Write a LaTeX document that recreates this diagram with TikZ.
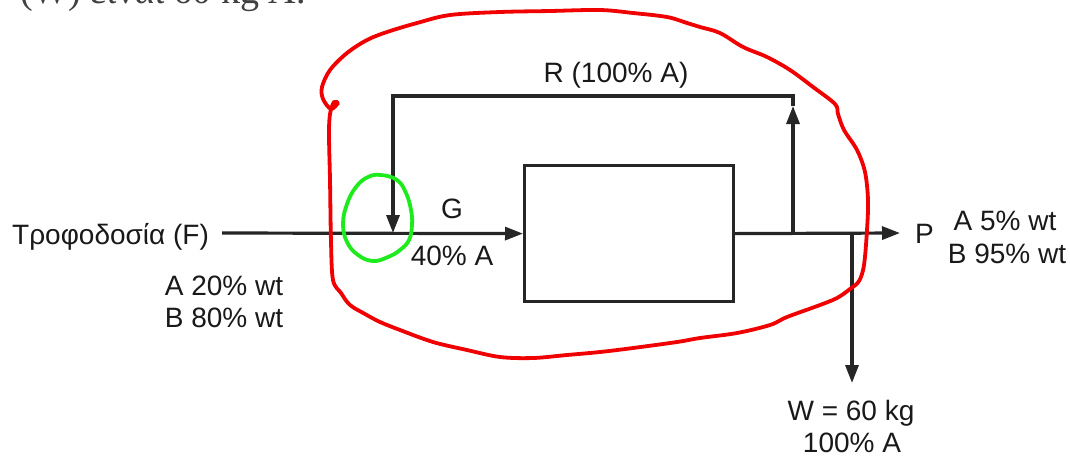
\documentclass[tikz,border=0pt]{standalone}
\usepackage{fontspec}
\setmainfont{Liberation Sans}
\newfontfamily\serifgr{Liberation Serif}
\usetikzlibrary{arrows.meta}
\definecolor{hred}{RGB}{240,0,0}
\definecolor{hgreen}{RGB}{30,235,30}
\begin{document}
\begin{tikzpicture}[x=1pt,y=-1pt,
  lbl/.style={font=\fontsize{28}{32}\selectfont, inner sep=0pt, text=black!90},
  pipe/.style={line width=3.2pt, draw=black!85},
  flow/.style={pipe, -{Triangle[length=18pt,width=13pt]}},
  hand/.style={line width=3.8pt, line cap=round, line join=round}]
\useasboundingbox (0,0) rectangle (1070,459);
\fill[white] (0,0) rectangle (1070,459);
\begin{scope}
  \clip (0,0) rectangle (1070,459);
  \node[font=\serifgr\fontsize{38}{40}\selectfont, inner sep=0pt, anchor=base west, text=black!75] (toptext) at (20,3) {(W) είναι 60 kg A.};
\end{scope}

% labels
\node[lbl, anchor=base west] (F) at (12,244) {Τροφοδοσία (F)};
\node[lbl, anchor=base] (fa) at (224,295) {A 20\% wt};
\node[lbl, anchor=base] (fb) at (224,327) {B 80\% wt};
\node[lbl, anchor=base] (G) at (452,218) {G};
\node[lbl, anchor=base] (g40) at (452,265) {40\% A};
\node[lbl, anchor=base] (R) at (616,82) {R (100\% A)};
\node[lbl, anchor=base west] (P) at (915,243) {P};
\node[lbl, anchor=base] (pa) at (1005,230) {A 5\% wt};
\node[lbl, anchor=base] (pb) at (1007,263) {B 95\% wt};
\node[lbl, anchor=base] (W) at (851,420) {W = 60 kg};
\node[lbl, anchor=base] (wa) at (852,452) {100\% A};

% unit
\node[draw, pipe, minimum width=209pt, minimum height=136pt, inner sep=0pt, anchor=north west] (unit) at (523,164) {};

% coordinates
\coordinate (fstart) at (222,233);
\coordinate (mix) at (393,233);
\coordinate (split) at (793,233);
\coordinate (rarr) at (793,106);
\coordinate (rtop) at (793,96);
\coordinate (ltop) at (393,96);
\coordinate (wsplit) at (852,233);
\coordinate (wtip) at (852,383);
\coordinate (ptip) at (900,233);

% streams
\draw[flow] (fstart) -- (unit.west);
\draw[flow] (unit.east) -- (ptip);
\draw[flow] (split) -- (rarr);
\draw[flow] (rarr) -- (rtop) -- (ltop) -- (mix);
\draw[flow] (wsplit) -- (wtip);

% hand annotations
\draw[hand, hred] plot[smooth, tension=0.55] coordinates {
 (338,103) (331,109) (323,99) (322,87) (330,70) (347,53) (367,40) (387,32)
 (417,23) (450,15) (500,12) (550,11) (600,10) (633,13) (667,17) (687,23)
 (700,27) (720,33) (743,47) (767,57) (790,70) (813,87) (835,104) (838,114)
 (844,130) (857,150) (865,172) (868,200) (867,230) (864,265) (859,281)
 (850,289) (837,298) (820,305) (787,317) (770,325) (737,333) (700,338)
 (677,342) (633,348) (600,352) (567,355) (533,358) (500,357) (467,350)
 (433,342) (400,330) (380,322) (365,314) (350,305) (341,293) (333,280)
 (331,242) (330,180) (329,135) (330,114) (334,102) (338,103)};
\draw[hand, hgreen] plot[smooth cycle, tension=0.7] coordinates {
 (381,175) (397,180) (406,193) (411,210) (412,225) (409,240) (400,250)
 (388,257) (373,261) (358,255) (347,242) (343,224) (347,204) (356,187) (368,177)};
\end{tikzpicture}
\end{document}
